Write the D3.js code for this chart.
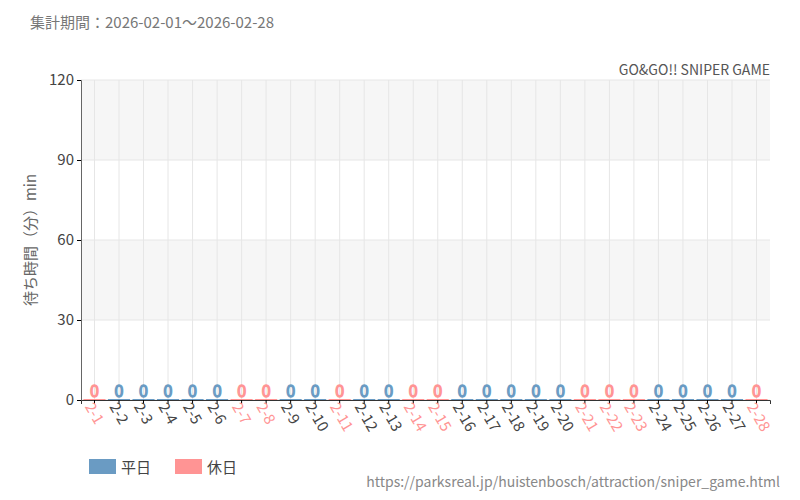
<!DOCTYPE html>
<html><head><meta charset="utf-8">
<script src="https://cdn.jsdelivr.net/npm/d3@7"></script>
<style>body{margin:0;background:#fff;font-family:"Noto Sans CJK JP","Noto Sans",sans-serif;}</style>
</head><body><div id="chart"></div>
<script>
// data
var days = d3.range(1, 29).map(function(d){ return "2-" + d; });
var waits = days.map(function(){ return 0; });
var holidays = ["2-1","2-7","2-8","2-11","2-14","2-15","2-21","2-22","2-23","2-28"];
var yTicks = [0, 30, 60, 90, 120];

var blue = "#6a9bc3", red = "#ff9494";
var font = "Noto Sans CJK JP";
var svg = d3.select("#chart").append("svg").attr("width", 800).attr("height", 500);
var margin = {left: 81, right: 30, top: 80, bottom: 100};
var w = 800 - margin.left - margin.right, h = 500 - margin.top - margin.bottom;
var g = svg.append("g").attr("transform", `translate(${margin.left},${margin.top})`);

var x = d3.scaleBand().domain(days).range([0, w]).padding(0.1);
var y = d3.scaleLinear().domain([0, 120]).range([h, 0]);

//shaded bands
[[90,120],[30,60]].forEach(function(b){
  g.append("rect").attr("x",0).attr("width",w).attr("y",y(b[1])).attr("height",y(b[0])-y(b[1])).attr("fill","#f6f6f6");
});
yTicks.forEach(function(t){
  g.append("line").attr("x1",0).attr("x2",w).attr("y1",y(t)).attr("y2",y(t)).attr("stroke","#e6e6e6");
});
days.forEach(function(d){
  g.append("line").attr("x1",x(d)+x.bandwidth()/2).attr("x2",x(d)+x.bandwidth()/2).attr("y1",0).attr("y2",h).attr("stroke","#e6e6e6");
});

function col(d){ return holidays.indexOf(d) >= 0 ? red : blue; }

g.selectAll(".bar").data(days).enter().append("rect")
  .attr("x", d => x(d)).attr("width", x.bandwidth())
  .attr("y", (d,i) => y(waits[i]) - 1).attr("height", (d,i) => h - y(waits[i]) + 1)
  .attr("fill", col);

//hollow value labels
g.selectAll(".val").data(days).enter().append("text")
  .attr("x", d => x(d) + x.bandwidth()/2).attr("y", (d,i) => y(waits[i]) - 3)
  .attr("text-anchor","middle").attr("font-size",16).attr("font-family",font).attr("fill","#fff")
  .attr("stroke", col).attr("stroke-width",1.3)
  .text((d,i) => waits[i]);

var ya = g.append("g").call(d3.axisLeft(y).tickValues(yTicks).tickSize(4));
ya.select(".domain").attr("stroke","#666");
ya.selectAll("text").attr("font-size",15).attr("fill","#444").attr("font-family",font);

var xa = g.append("g").attr("transform",`translate(0,${h})`).call(d3.axisBottom(x).tickSize(4));
xa.select(".domain").attr("stroke","#333");
xa.selectAll("text").attr("font-size",15).attr("font-family",font)
  .attr("fill", d => holidays.indexOf(d) >= 0 ? red : "#444")
  .attr("text-anchor","start").attr("transform","translate(-4,3) rotate(60)").attr("dy","0");

svg.append("text").attr("x",30).attr("y",28).attr("font-size",15).attr("font-family",font).attr("fill","#777").text("集計期間：2026-02-01～2026-02-28");
svg.append("text").attr("x",770).attr("y",75).attr("text-anchor","end").attr("font-size",14).attr("font-family",font).attr("fill","#555").text("GO&GO!! SNIPER GAME");
svg.append("text").attr("transform","translate(36,240) rotate(-90)").attr("text-anchor","middle").attr("font-size",15).attr("font-family",font).attr("fill","#666").text("待ち時間（分）min");

[[blue,"平日",89],[red,"休日",175]].forEach(function(l){
  svg.append("rect").attr("x",l[2]).attr("y",459).attr("width",27).attr("height",15).attr("fill",l[0]);
  svg.append("text").attr("x",l[2]+32).attr("y",473).attr("font-size",15).attr("font-family",font).attr("fill","#444").text(l[1]);
});
svg.append("text").attr("x",780).attr("y",487).attr("text-anchor","end").attr("font-size",14).attr("font-family",font).attr("fill","#888").text("https://parksreal.jp/huistenbosch/attraction/sniper_game.html");
</script></body></html>
